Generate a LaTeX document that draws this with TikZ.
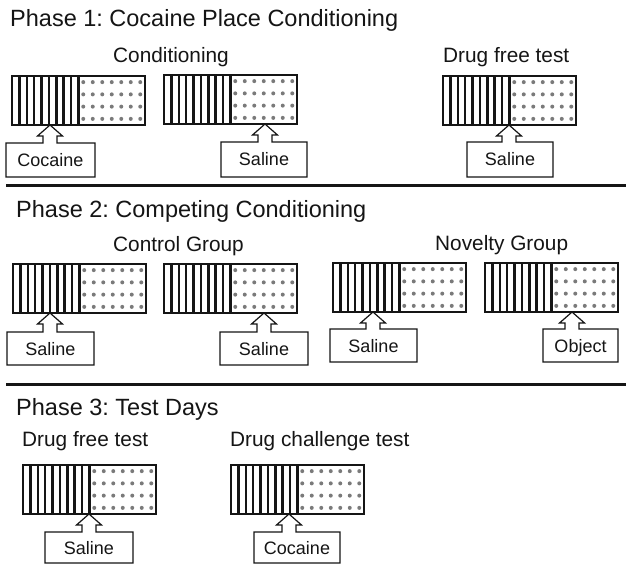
\documentclass[tikz,border=0pt]{standalone}
\usepackage{fontspec}
\setmainfont{Liberation Sans}
\frenchspacing
\definecolor{ink}{HTML}{151515}
\definecolor{dotc}{HTML}{7A7A7A}
\tikzset{
  titletext/.style={inner sep=0pt, anchor=base west, text=ink, font=\fontsize{23.5bp}{28bp}\selectfont},
  grouptext/.style={inner sep=0pt, anchor=base west, text=ink, font=\fontsize{20.8bp}{25bp}\selectfont},
  boxlabel/.style={inner sep=0pt, anchor=base, text=ink, font=\fontsize{18bp}{22bp}\selectfont},
  calloutline/.style={draw=ink, line width=1.2bp, line join=miter, fill=white},
  separator/.style={draw=ink, line width=3bp},
  bar/.style={draw=ink, line width=2.5bp},
  frame/.style={draw=ink, line width=1.4bp}
}
\newcommand\chamber[3]{% name, x0, y0
  \begin{scope}[shift={(#2,#3)}]
    \coordinate (#1) at (0,0);
    \foreach \k in {1,...,8} \draw[bar] ({\k*66.5/9},0) -- ({\k*66.5/9},49);
    \foreach \i in {0,...,3} \foreach \j in {0,...,6}
      \fill[dotc] ({66.5+(\j+0.5)*66.5/7},{(\i+0.5)*49/4}) circle (2bp);
    \draw[bar] (66.5,0) -- (66.5,49);
    \draw[frame] (0,0) rectangle (133,49);
  \end{scope}}
\newcommand\callout[8]{% name, tipx, tipy, x0, x1, top, bottom, text
  \draw[calloutline] (#4,#6) -- ({#2-7},#6) -- ({#2-7},{#3+11}) -- ({#2-12.5},{#3+11})
    -- (#2,#3) -- ({#2+12.5},{#3+11}) -- ({#2+7},{#3+11}) -- ({#2+7},#6)
    -- (#5,#6) -- (#5,#7) -- (#4,#7) -- cycle;
  \node[boxlabel] (#1) at ({(#4+#5)/2},{(#6+#7)/2+6.5}) {#8};}
\begin{document}
\begin{tikzpicture}[x=1bp, y=-1bp]
  \useasboundingbox[fill=white] (0,0) rectangle (626,565);

  % Phase 1
  \node[titletext] (t1) at (10,27) {Phase 1: Cocaine Place Conditioning};
  \node[grouptext] (g1) at (113,63) {Conditioning};
  \node[grouptext] (g2) at (443,63) {Drug free test};
  \chamber{c1}{12}{76}
  \chamber{c2}{164}{75}
  \chamber{c3}{443}{76}
  \callout{b1}{50}{125}{6}{95}{143}{177}{Cocaine}
  \callout{b2}{265}{124}{221}{307}{142}{177}{Saline}
  \callout{b3}{509}{125}{467}{553}{142}{177}{Saline}
  \coordinate (s1a) at (6,185);
  \coordinate (s1b) at (626,185);
  \draw[separator] (s1a) -- (s1b);

  % Phase 2
  \node[titletext] (t2) at (16,217) {Phase 2: Competing Conditioning};
  \node[grouptext] (g3) at (113,251) {Control Group};
  \node[grouptext] (g4) at (435,250) {Novelty Group};
  \chamber{c4}{13}{264}
  \chamber{c5}{164}{264}
  \chamber{c6}{333}{263}
  \chamber{c7}{485}{263}
  \callout{b4}{50}{313}{7}{94}{332}{365}{Saline}
  \callout{b5}{264}{313}{220}{308}{332}{365}{Saline}
  \callout{b6}{373}{312}{330}{417}{329}{362}{Saline}
  \callout{b7}{572}{312}{543}{618}{329}{362}{Object}
  \coordinate (s2a) at (6,384);
  \coordinate (s2b) at (626,384);
  \draw[separator] (s2a) -- (s2b);

  % Phase 3
  \node[titletext] (t3) at (16,415) {Phase 3: Test Days};
  \node[grouptext] (g5) at (22,446) {Drug free test};
  \node[grouptext] (g6) at (230,446) {Drug challenge test};
  \chamber{c8}{23}{465}
  \chamber{c9}{231}{465}
  \callout{b8}{89}{514}{45}{133}{532}{563}{Saline}
  \callout{b9}{289}{514}{254}{340}{532}{563}{Cocaine}
\end{tikzpicture}
\end{document}
